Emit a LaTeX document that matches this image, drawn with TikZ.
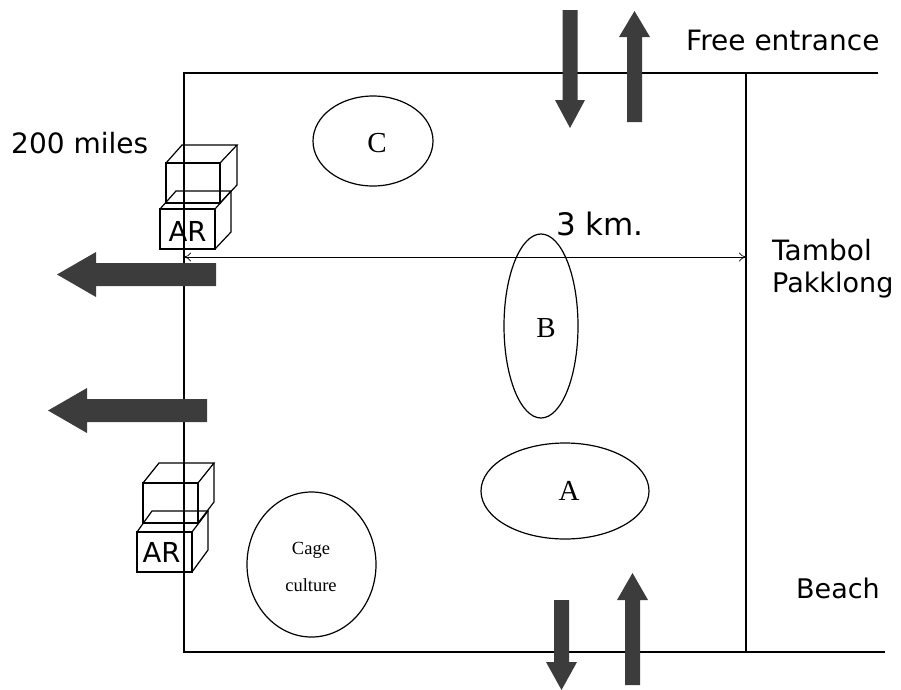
\documentclass[tikz,border=0pt]{standalone}
\usepackage{fontspec}
\setmainfont{Liberation Serif}
\newfontfamily\labelfont{DejaVu Sans}
\usetikzlibrary{arrows.meta,shapes.geometric}
\definecolor{arrowgrey}{HTML}{3C3C3C}
\tikzset{
  frameline/.style={draw=black,line width=1.5pt},
  zone/.style={ellipse,draw=black,line width=1.2pt,inner sep=0pt,outer sep=0pt},
  cubeline/.style={draw=black,line width=1.2pt},
  bigarrow/.style={fill=arrowgrey,draw=none},
  sanslabel/.style={font=\labelfont\fontsize{28}{28}\selectfont,text=black,inner sep=0pt},
  narrowlabel/.style={font=\labelfont\fontsize{27}{28}\selectfont,text=black,inner sep=0pt},
  widelabel/.style={font=\labelfont\fontsize{31}{31}\selectfont,text=black,inner sep=0pt},
  arlabel/.style={font=\labelfont\fontsize{27.5}{28}\selectfont,text=black,inner sep=0pt},
  zonelabel/.style={font=\fontsize{29}{29}\selectfont,text=black},
  smalllabel/.style={font=\fontsize{18.5}{19}\selectfont,text=black,inner sep=0pt},
  dimline/.style={draw=black,line width=0.7pt,{To[length=7pt,width=9pt]}-{To[length=7pt,width=9pt]}},
}
\newcommand{\cubeat}[8]{%
  \draw[cubeline] (#1,#2) rectangle (#3,#4);
  \draw[cubeline] (#1,#2) -- (#5,#6) -- (#7,#6) -- (#3,#2);
  \draw[cubeline] (#7,#6) -- (#7,#8) -- (#3,#4);
}
% horizontal arrow pointing left: tail x, tip x, head base x, centre y, half shaft, half head
\newcommand{\leftarrowat}[6]{%
  \fill[bigarrow] (#1,#4-#5) -- (#3,#4-#5) -- (#3,#4-#6) -- (#2,#4) -- (#3,#4+#6) -- (#3,#4+#5) -- (#1,#4+#5) -- cycle;
}
% vertical arrow: tail y, tip y, head base y, centre x, half shaft, half head
\newcommand{\vertarrowat}[6]{%
  \fill[bigarrow] (#4-#5,#1) -- (#4-#5,#3) -- (#4-#6,#3) -- (#4,#2) -- (#4+#6,#3) -- (#4+#5,#3) -- (#4+#5,#1) -- cycle;
}
\begin{document}
\begin{tikzpicture}[x=1pt,y=-1pt]
\useasboundingbox (0,0) rectangle (901,689);
% cubes
\cubeat{166}{163}{220}{203}{182}{145}{237}{185}
\cubeat{160}{209}{215}{249}{176}{191}{231}{232}
\cubeat{143}{483}{198}{523}{159}{463}{214}{502}
\cubeat{137}{532}{192}{572}{152}{511}{208}{550}
\node[arlabel] (ar1) at (187.5,231) {AR};
\node[arlabel] (ar2) at (161.5,552) {AR};
% frame
\draw[frameline] (878,73) -- (184,73) -- (184,652) -- (885,652);
\draw[frameline] (746,73) -- (746,652);
% big arrows
\vertarrowat{10}{128}{100}{570}{7.5}{15}
\vertarrowat{122}{11}{37}{634.5}{7.5}{15.5}
\vertarrowat{600}{690}{662}{561.5}{7.5}{15.5}
\vertarrowat{685}{573}{600}{632.5}{7.5}{15.5}
\leftarrowat{216}{57}{96}{274.5}{11.5}{22.5}
\leftarrowat{207}{48}{87}{410.5}{11.5}{22.5}
% zones
\node[zone,minimum width=120pt,minimum height=90pt] (c) at (373,141) {};
\node[zone,minimum width=74pt,minimum height=184pt] (b) at (541,326) {};
\node[zone,minimum width=168pt,minimum height=96pt] (a) at (565,491) {};
\node[zone,minimum width=129pt,minimum height=145pt] (cage) at (311.5,564.5) {};
\node[zonelabel] (cl) at (377,143) {C};
\node[zonelabel] (bl) at (546,328) {B};
\node[zonelabel] (al) at (569,491) {A};
\node[smalllabel] (cage1) at (311,550) {Cage};
\node[smalllabel] (cage2) at (311,585) {culture};
% dimension
\coordinate (dl) at (184,257);
\coordinate (dr) at (746,257);
\draw[dimline] (dl) -- (dr);
% labels
\node[sanslabel,anchor=west] (fe) at (686,40) {Free entrance};
\node[sanslabel,anchor=west] (mi) at (11,143) {200 miles};
\node[widelabel,anchor=west] (km) at (556,224) {3 km.};
\node[sanslabel,anchor=west] (ta) at (772,250) {Tambol};
\node[narrowlabel,anchor=west] (pa) at (772,285) {Pakklong};
\node[narrowlabel,anchor=west] (be) at (796,588) {Beach};
\end{tikzpicture}
\end{document}
